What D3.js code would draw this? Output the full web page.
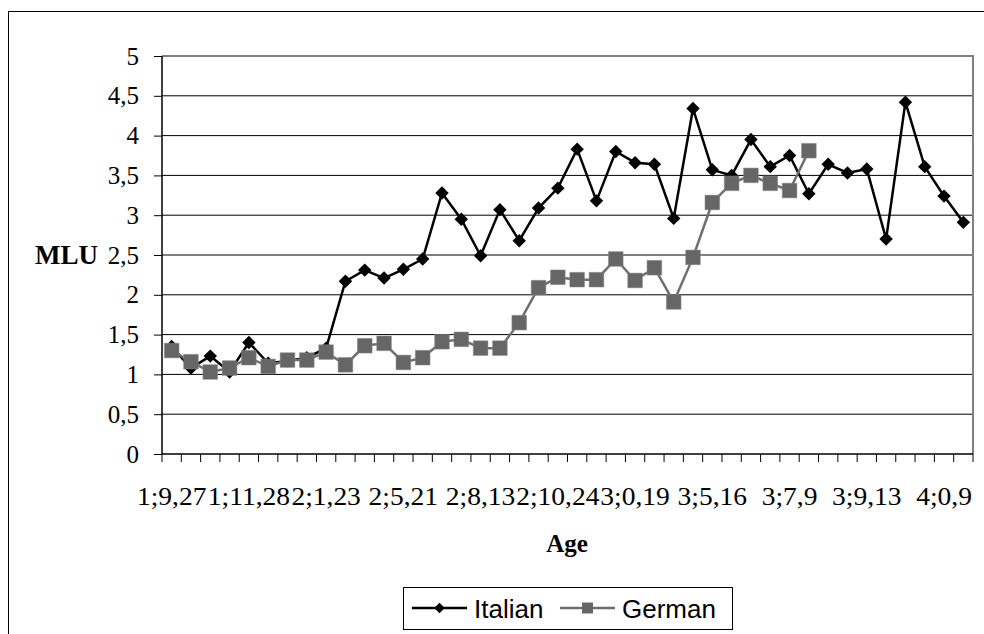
<!DOCTYPE html>
<html>
<head>
<meta charset="utf-8">
<script src="https://cdnjs.cloudflare.com/ajax/libs/d3/7.8.5/d3.min.js"></script>
<style>
  body { margin: 0; background: #fff; }
  svg { display: block; }
</style>
</head>
<body>
<svg width="984" height="634"></svg>
<script>
// sessions 0..41, only every 4th one carries an age label
var sessions = d3.range(42);
var ageLabels = ["1;9,27", "1;11,28", "2;1,23", "2;5,21", "2;8,13", "2;10,24",
                 "3;0,19", "3;5,16", "3;7,9", "3;9,13", "4;0,9"];
var yTicks = [0, 0.5, 1, 1.5, 2, 2.5, 3, 3.5, 4, 4.5, 5];

var italian = [1.35, 1.08, 1.23, 1.03, 1.40, 1.14, 1.17, 1.21, 1.33, 2.17,
               2.31, 2.21, 2.32, 2.45, 3.28, 2.95, 2.49, 3.07, 2.68, 3.09,
               3.34, 3.83, 3.18, 3.80, 3.66, 3.64, 2.96, 4.34, 3.57, 3.50,
               3.95, 3.61, 3.75, 3.27, 3.64, 3.53, 3.58, 2.70, 4.42, 3.61,
               3.24, 2.91];
var german = [1.30, 1.16, 1.03, 1.08, 1.21, 1.10, 1.18, 1.18, 1.28, 1.12,
              1.36, 1.39, 1.15, 1.21, 1.41, 1.44, 1.33, 1.33, 1.65, 2.09,
              2.22, 2.19, 2.19, 2.45, 2.18, 2.34, 1.91, 2.47, 3.16, 3.40,
              3.50, 3.40, 3.31, 3.81];

var svg = d3.select("svg"),
    plot = {left: 162, right: 973, top: 56, bottom: 454};

var serif = "'Liberation Serif', 'Times New Roman', serif",
    sans = "'Liberation Sans', Arial, sans-serif";

var x = d3.scaleBand().domain(sessions).range([plot.left, plot.right]),
    y = d3.scaleLinear().domain([0, 5]).range([plot.bottom, plot.top]);

var fmt = function(v) { return String(v).replace(".", ","); };

// outer chart frame (runs off the page on right/bottom)
svg.append("rect")
    .attr("x", 8.5).attr("y", 11.5)
    .attr("width", 1000).attr("height", 700)
    .attr("fill", "#fff").attr("stroke", "#000").attr("stroke-width", 1);

// gridlines
svg.append("g")
  .selectAll("line")
  .data(yTicks.filter(function(v) { return v > 0 && v < 5; }))
  .enter().append("line")
    .attr("x1", plot.left).attr("x2", plot.right)
    .attr("y1", function(d) { return y(d); })
    .attr("y2", function(d) { return y(d); })
    .attr("stroke", "#000").attr("stroke-width", 1);

// plot area border top / right (grey)
svg.append("path")
    .attr("d", "M" + plot.left + "," + y(5) + "H" + plot.right + "V" + plot.bottom)
    .attr("fill", "none").attr("stroke", "#808080").attr("stroke-width", 2);

// y axis
var yAxis = svg.append("g")
    .attr("transform", "translate(" + plot.left + ",0)")
    .call(d3.axisLeft(y).tickValues(yTicks).tickSize(8).tickPadding(15).tickFormat(fmt));
yAxis.select(".domain").attr("stroke", "#000").attr("stroke-width", 1.5)
    .attr("d", "M0," + plot.bottom + "V" + plot.top);
yAxis.selectAll(".tick line").attr("stroke", "#000");
yAxis.selectAll("text")
    .style("font-family", serif).style("font-size", "25px").attr("fill", "#000");

// x axis: labels under every 4th session, ticks on category boundaries
var xAxis = svg.append("g")
    .attr("transform", "translate(0," + plot.bottom + ")")
    .call(d3.axisBottom(x)
        .tickValues(sessions.filter(function(d) { return d % 4 === 0; }))
        .tickSize(0).tickPadding(33)
        .tickFormat(function(d) { return ageLabels[d / 4]; }));
xAxis.select(".domain").attr("stroke", "#000").attr("stroke-width", 1.5)
    .attr("d", "M" + plot.left + ",0H" + plot.right);
xAxis.selectAll("text")
    .style("font-family", serif).style("font-size", "25px").attr("fill", "#000")
    .attr("transform", "scale(1.1,1)");

xAxis.append("g")
  .selectAll("line")
  .data(sessions.concat([sessions.length]))
  .enter().append("line")
    .attr("x1", function(d) { return d < sessions.length ? x(d) : x.range()[1]; })
    .attr("x2", function(d) { return d < sessions.length ? x(d) : x.range()[1]; })
    .attr("y1", 0).attr("y2", 8)
    .attr("stroke", "#000").attr("stroke-width", 1);

// axis titles
svg.append("text")
    .attr("x", 98).attr("y", y(2.5) + 9)
    .attr("text-anchor", "end")
    .style("font-family", serif).style("font-size", "27px").style("font-weight", "bold")
    .text("MLU");

svg.append("text")
    .attr("x", 567).attr("y", 552)
    .attr("text-anchor", "middle")
    .style("font-family", serif).style("font-size", "25px").style("font-weight", "bold")
    .text("Age");

// series
var cx = function(i) { return x(i) + x.bandwidth() / 2; };
var line = d3.line()
    .x(function(d, i) { return cx(i); })
    .y(function(d) { return y(d); });

var diamond = d3.symbol().type(d3.symbolDiamond2).size(115);
var square = d3.symbol().type(d3.symbolSquare).size(215);

svg.append("path").datum(italian)
    .attr("d", line).attr("fill", "none").attr("stroke", "#000").attr("stroke-width", 2.5);
svg.append("g").selectAll("path")
    .data(italian)
    .enter().append("path")
      .attr("d", diamond)
      .attr("transform", function(d, i) { return "translate(" + cx(i) + "," + y(d) + ")"; })
      .attr("fill", "#000");

svg.append("path").datum(german)
    .attr("d", line).attr("fill", "none").attr("stroke", "#6e6e6e").attr("stroke-width", 2.5);
svg.append("g").selectAll("path")
    .data(german)
    .enter().append("path")
      .attr("d", square)
      .attr("transform", function(d, i) { return "translate(" + cx(i) + "," + y(d) + ")"; })
      .attr("fill", "#666").attr("stroke", "#888").attr("stroke-width", 0.5);

// legend
var lg = svg.append("g");
lg.append("rect")
    .attr("x", 403.5).attr("y", 587.5).attr("width", 329).attr("height", 42)
    .attr("fill", "#fff").attr("stroke", "#000").attr("stroke-width", 1);

var legendItems = [
  {name: "Italian", x0: 412, color: "#000", sym: d3.symbol().type(d3.symbolDiamond2).size(70), fill: "#000"},
  {name: "German", x0: 560, color: "#6e6e6e", sym: d3.symbol().type(d3.symbolSquare).size(120), fill: "#666"}
];
var li = lg.selectAll(".item")
    .data(legendItems)
    .enter().append("g")
      .attr("class", "item")
      .attr("transform", function(d) { return "translate(" + d.x0 + ",608)"; });
li.append("line")
    .attr("x1", 0).attr("x2", 55).attr("y1", 0).attr("y2", 0)
    .attr("stroke", function(d) { return d.color; }).attr("stroke-width", 2.5);
li.append("path")
    .attr("d", function(d) { return d.sym(); })
    .attr("transform", "translate(27.5,0)")
    .attr("fill", function(d) { return d.fill; });
li.append("text")
    .attr("x", 62).attr("y", 10)
    .style("font-family", sans).style("font-size", "26px")
    .text(function(d) { return d.name; });
</script>
</body>
</html>
